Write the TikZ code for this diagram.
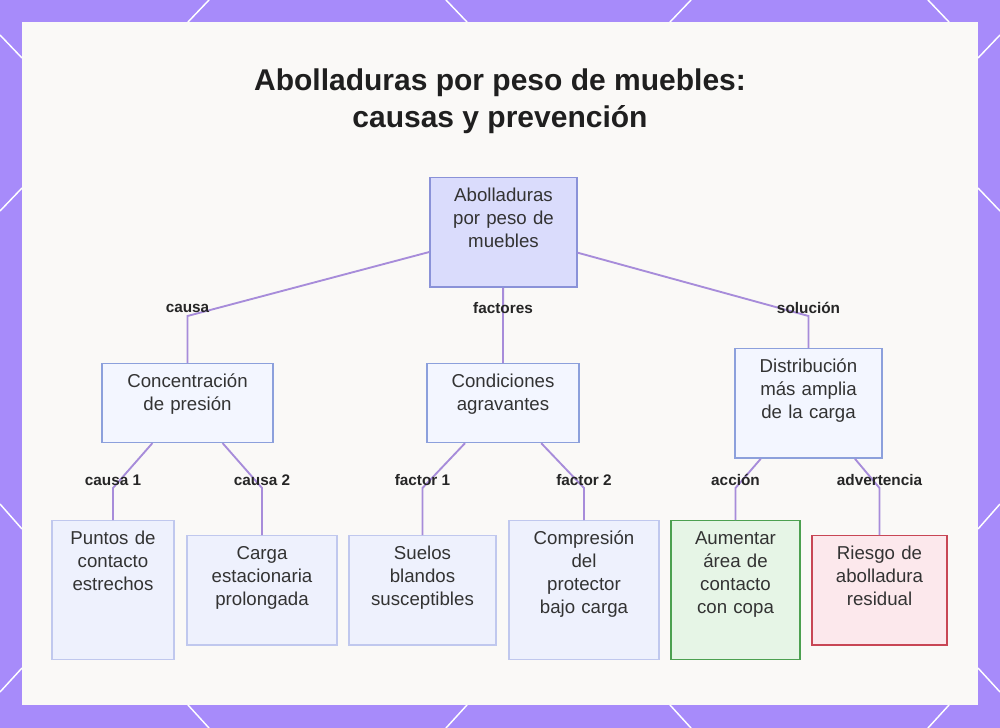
\documentclass[tikz,border=0pt]{standalone}
\usepackage{fontspec}
\setmainfont{Liberation Sans}

\definecolor{fondo}{RGB}{167,139,250}
\definecolor{panel}{RGB}{250,249,247}
\definecolor{texto}{RGB}{51,51,51}
\definecolor{enlace}{RGB}{167,140,218}
\definecolor{raizfill}{RGB}{218,220,252}
\definecolor{raizdraw}{RGB}{138,146,216}
\definecolor{medfill}{RGB}{243,246,255}
\definecolor{meddraw}{RGB}{140,160,220}
\definecolor{hojafill}{RGB}{238,241,253}
\definecolor{hojadraw}{RGB}{192,200,238}
\definecolor{okfill}{RGB}{230,245,230}
\definecolor{okdraw}{RGB}{76,160,80}
\definecolor{riesgofill}{RGB}{252,232,236}
\definecolor{riesgodraw}{RGB}{200,70,85}

\begin{document}
\begin{tikzpicture}[
  x=0.75pt, y=-0.75pt,
  every node/.style={font=\fontsize{14}{17.2}\selectfont, align=center, text=texto},
  caja/.style={rectangle, anchor=north, line width=1.1pt, inner xsep=0pt, inner ysep=8pt, text height=10pt},
  corta/.style={text depth=33pt},
  media/.style={text depth=56pt},
  alta/.style={text depth=78pt},
  hoja/.style={caja, fill=hojafill, draw=hojadraw},
  etiq/.style={font=\fontsize{11.5}{13}\selectfont\bfseries, text=black!85},
  enl/.style={draw=enlace, line width=1.4pt},
  deco/.style={draw=white, line width=1.1pt}
]
\useasboundingbox (0,0) rectangle (1000,728);

% Marco de fondo
\fill[fondo] (0,0) rectangle (1000,728);
\foreach \a/\b in {209/188, 446/467, 691/670, 928/949} {
  \draw[deco] (\a,0) -- (\b,22);
  \draw[deco] (\a,728) -- (\b,705);
}
\foreach \p/\q in {35/58, 211/188, 504/529, 692/668} {
  \draw[deco] (0,\p) -- (22,\q);
  \draw[deco] (1000,\p) -- (978,\q);
}
\fill[panel] (22,22) rectangle (978,705);

% Título
\node[font=\fontsize{22.5}{27.8}\selectfont\bfseries, text=black!88] (titulo) at (500,101) {Abolladuras por peso de muebles:\\causas y prevención};

% Nodo raíz
\node[caja, media, text width=110pt, fill=raizfill, draw=raizdraw] (raiz) at (503.5,177) {Abolladuras\\por peso de\\muebles};

% Segundo nivel
\node[caja, corta, text width=128pt, fill=medfill, draw=meddraw] (n1) at (187.5,363) {Concentración\\de presión};
\node[caja, corta, text width=114pt, fill=medfill, draw=meddraw] (n2) at (503,363) {Condiciones\\agravantes};
\node[caja, media, text width=110pt, fill=medfill, draw=meddraw] (n3) at (808.5,348) {Distribución\\más amplia\\de la carga};

% Tercer nivel
\node[hoja, alta, text width=91.5pt] (h1) at (113,520) {Puntos de\\contacto\\estrechos};
\node[hoja, media, text width=112.5pt] (h2) at (262,535) {Carga\\estacionaria\\prolongada};
\node[hoja, media, text width=110pt] (h3) at (422.5,535) {Suelos\\blandos\\susceptibles};
\node[hoja, alta, text width=112.5pt] (h4) at (584,520) {Compresión\\del\\protector\\bajo carga};
\node[caja, alta, text width=97pt, fill=okfill, draw=okdraw] (h5) at (735.5,520) {Aumentar\\área de\\contacto\\con copa};
\node[caja, media, text width=101pt, fill=riesgofill, draw=riesgodraw] (h6) at (879.5,535) {Riesgo de\\abolladura\\residual};

% Puntos de quiebre
\coordinate (k1) at (187.5,316);
\coordinate (k2) at (503,316);
\coordinate (k3) at (808.5,316);
\coordinate (k4) at (113,488);
\coordinate (k5) at (262,488);
\coordinate (k6) at (422.5,488);
\coordinate (k7) at (584,488);
\coordinate (k8) at (735.5,488);
\coordinate (k9) at (879.5,488);

% Conexiones
\foreach \n in {1,2,3} {
  \draw[enl] (raiz) -- (k\n) -- (n\n);
}
\draw[enl] (n1) -- (k4) -- (h1);
\draw[enl] (n1) -- (k5) -- (h2);
\draw[enl] (n2) -- (k6) -- (h3);
\draw[enl] (n2) -- (k7) -- (h4);
\draw[enl] (n3) -- (k8) -- (h5);
\draw[enl] (n3) -- (k9) -- (h6);

% Etiquetas
\node[etiq] (e1) at ([yshift=6pt]k1) {causa};
\node[etiq] (e2) at ([yshift=6pt]k2) {factores};
\node[etiq] (e3) at ([yshift=6pt]k3) {solución};
\node[etiq] (e4) at ([yshift=6pt]k4) {causa 1};
\node[etiq] (e5) at ([yshift=6pt]k5) {causa 2};
\node[etiq] (e6) at ([yshift=6pt]k6) {factor 1};
\node[etiq] (e7) at ([yshift=6pt]k7) {factor 2};
\node[etiq] (e8) at ([yshift=6pt]k8) {acción};
\node[etiq] (e9) at ([yshift=6pt]k9) {advertencia};
\end{tikzpicture}
\end{document}
